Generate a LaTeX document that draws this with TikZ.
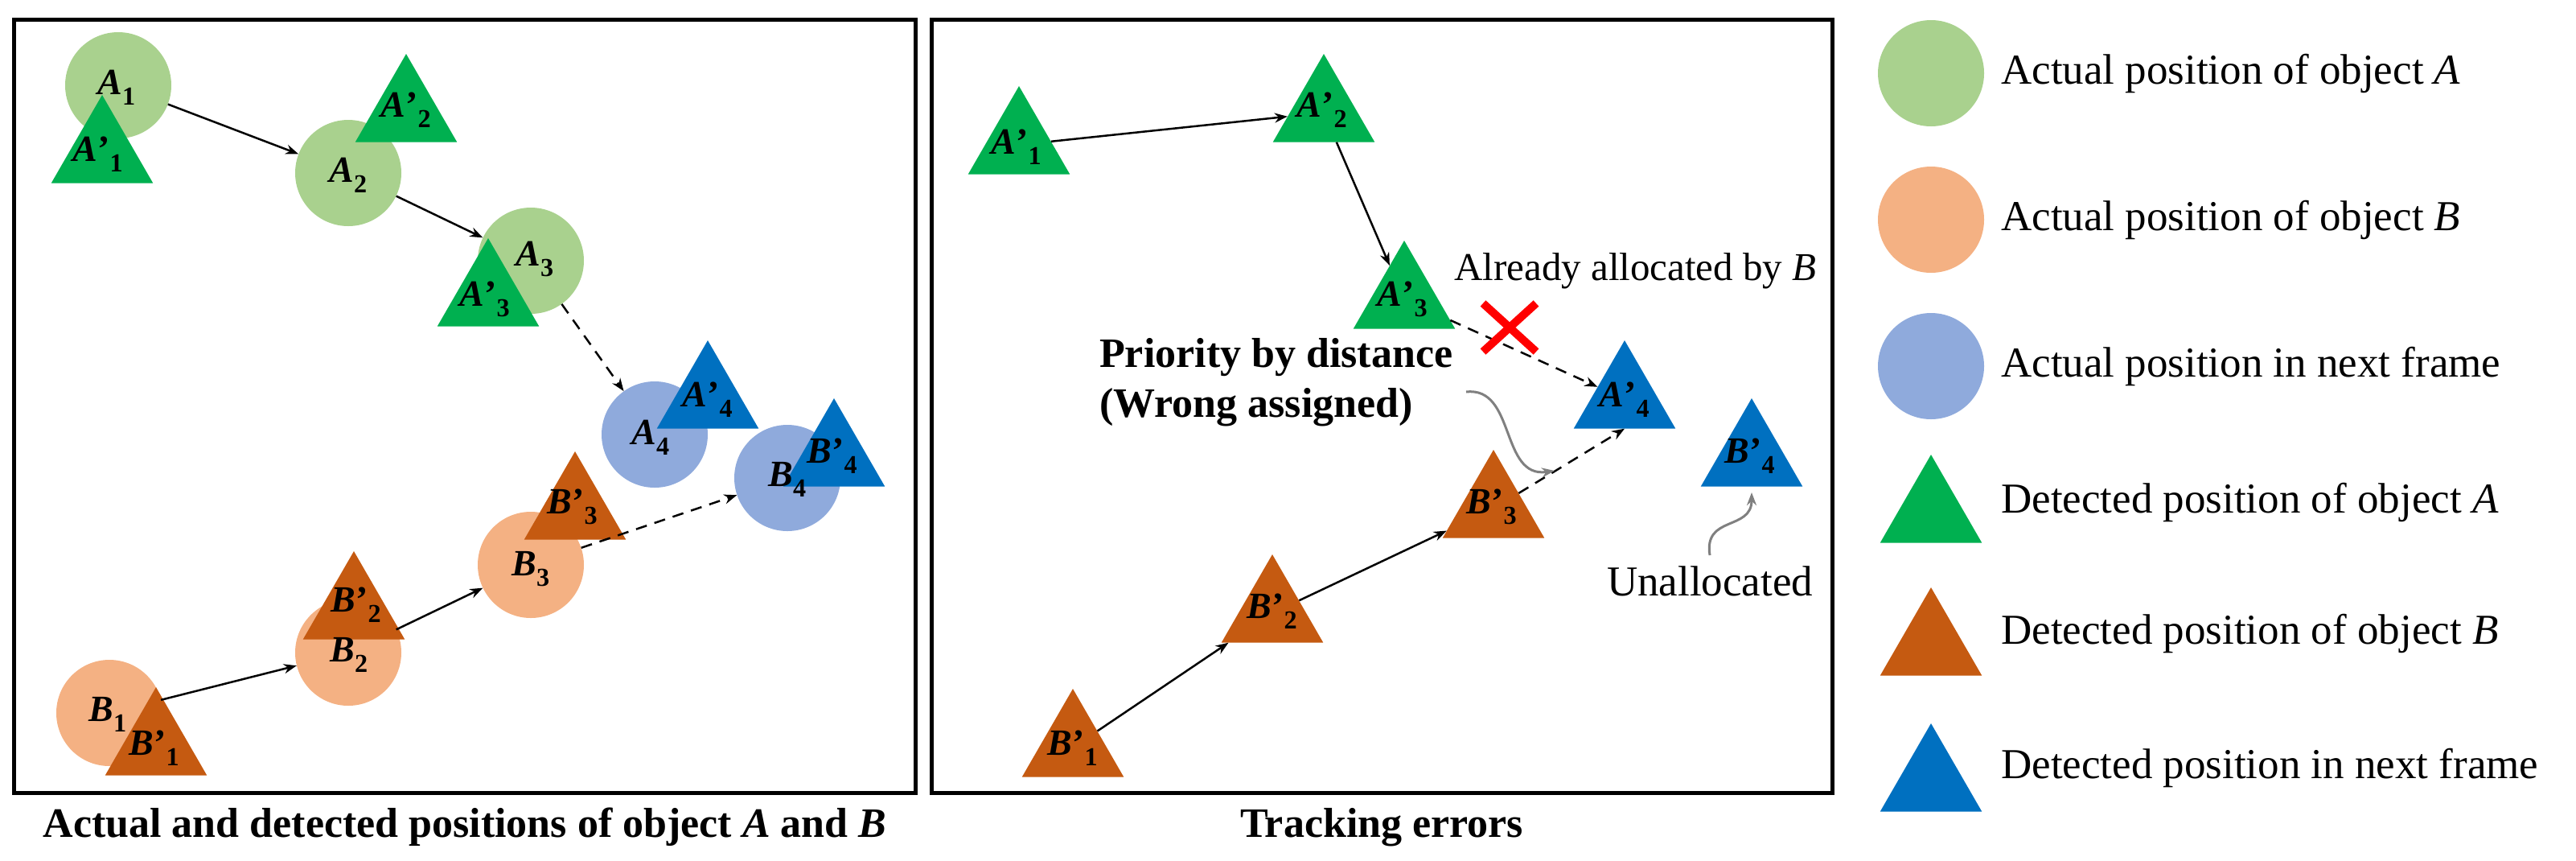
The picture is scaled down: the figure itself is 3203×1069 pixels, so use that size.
\documentclass[tikz,border=0pt]{standalone}
\usepackage{fontspec}
\setmainfont{Liberation Serif}
\usetikzlibrary{shapes.geometric,shapes.misc,arrows.meta}
\definecolor{cA}{HTML}{A9D18E}
\definecolor{cB}{HTML}{F4B183}
\definecolor{cN}{HTML}{8FAADC}
\definecolor{tA}{HTML}{00B050}
\definecolor{tB}{HTML}{C55A11}
\definecolor{tN}{HTML}{0070C0}
\tikzset{
  circ/.style={circle,minimum size=132pt,inner sep=0pt,draw=none},
  tri/.style={regular polygon,regular polygon sides=3,minimum size=146pt,inner sep=0pt,draw=none},
  lab/.style={inner sep=0pt,font=\fontsize{46}{50}\selectfont\bfseries\itshape},
  box/.style={draw=black,line width=5pt},
  arr/.style={line width=2.5pt,-{Stealth[length=16pt,width=12pt]}},
  darr/.style={arr,dash pattern=on 14pt off 10pt},
  garr/.style={line width=3pt,draw=gray,-{Stealth[length=16pt,width=12pt]}},
  txt/.style={inner sep=0pt,font=\fontsize{53}{62}\selectfont},
  btxt/.style={inner sep=0pt,font=\fontsize{52}{62}\selectfont\bfseries,align=left},
}
\newcommand{\pr}[2]{#1\textup{\textquoteright}\textsubscript{\upshape#2}}
\begin{document}
\begin{tikzpicture}[x=1pt,y=-1pt]
\useasboundingbox (0,0) rectangle (3203,1069);
% boxes
\node[box,minimum width=1121pt,minimum height=961pt,inner sep=0pt] (L) at (578,505) {};
\node[box,minimum width=1120pt,minimum height=961pt,inner sep=0pt] (R) at (1718,505) {};
\node[btxt] (capL) at (578,1028) {Actual and detected positions of object \textit{A} and \textit{B}};
\node[btxt] (capR) at (1718,1028) {Tracking errors};
% left circles
\node[circ,fill=cA] (A1) at (147,106) {};
\node[circ,fill=cA] (A2) at (433,215) {};
\node[circ,fill=cA] (A3) at (660,324) {};
\node[circ,fill=cN] (A4) at (814,540) {};
\node[circ,fill=cN] (B4) at (979,594) {};
\node[circ,fill=cB] (B3) at (660,702) {};
\node[circ,fill=cB] (B2) at (433,811) {};
\node[circ,fill=cB] (B1) at (136,886) {};
% left triangles (centroid = apex+72)
\node[tri,fill=tA] (lA1) at (127,191) {};
\node[tri,fill=tA] (lA2) at (505,140) {};
\node[tri,fill=tA] (lA3) at (607,369) {};
\node[tri,fill=tN] (lA4) at (880,496) {};
\node[tri,fill=tN] (lB4) at (1037,568) {};
\node[tri,fill=tB] (lB3) at (715,634) {};
\node[tri,fill=tB] (lB2) at (440,758) {};
\node[tri,fill=tB] (lB1) at (194,927) {};
\node[lab] (slA1) at (122,192) {\pr{A}{1}};
\node[lab] (slA2) at (505,137) {\pr{A}{2}};
\node[lab] (slA3) at (603,372) {\pr{A}{3}};
\node[lab] (slA4) at (880,497) {\pr{A}{4}};
\node[lab] (slB4) at (1035,567) {\pr{B}{4}};
\node[lab] (slB3) at (712,630) {\pr{B}{3}};
\node[lab] (slB2) at (443,752) {\pr{B}{2}};
\node[lab] (slB1) at (192,930) {\pr{B}{1}};
% circle labels
\node[lab] (tA1) at (145,109) {A\textsubscript{\upshape 1}};
\node[lab] (tA2) at (433,218) {A\textsubscript{\upshape 2}};
\node[lab] (tA3) at (665,322) {A\textsubscript{\upshape 3}};
\node[lab] (tA4) at (809,544) {A\textsubscript{\upshape 4}};
\node[lab] (tB4) at (979,596) {B\textsubscript{\upshape 4}};
\node[lab] (tB3) at (660,707) {B\textsubscript{\upshape 3}};
\node[lab] (tB2) at (434,814) {B\textsubscript{\upshape 2}};
\node[lab] (tB1) at (134,888) {B\textsubscript{\upshape 1}};
% left arrows
\draw[arr] (A1) -- (A2);
\draw[arr] (A2) -- (A3);
\draw[darr] (A3) -- (A4);
\draw[arr] (B1) -- (B2);
\draw[arr] (B2) -- (B3);
\draw[darr] (B3) -- (B4);
% right triangles
\node[tri,fill=tA] (rA1) at (1267,180) {};
\node[tri,fill=tA] (rA2) at (1646,140) {};
\node[tri,fill=tA] (rA3) at (1746,372) {};
\node[tri,fill=tN] (rA4) at (2020,496) {};
\node[tri,fill=tN] (rB4) at (2178,568) {};
\node[tri,fill=tB] (rB3) at (1857,632) {};
\node[tri,fill=tB] (rB2) at (1582,762) {};
\node[tri,fill=tB] (rB1) at (1334,929) {};
\node[lab] (srA1) at (1264,183) {\pr{A}{1}};
\node[lab] (srA2) at (1644,137) {\pr{A}{2}};
\node[lab] (srA3) at (1744,372) {\pr{A}{3}};
\node[lab] (srA4) at (2020,497) {\pr{A}{4}};
\node[lab] (srB4) at (2176,567) {\pr{B}{4}};
\node[lab] (srB3) at (1855,630) {\pr{B}{3}};
\node[lab] (srB2) at (1582,760) {\pr{B}{2}};
\node[lab] (srB1) at (1334,930) {\pr{B}{1}};
\draw[arr] (rA1) -- (rA2);
\draw[arr] (rA2) -- (rA3);
\draw[darr] (rA3) -- (rA4);
\draw[arr] (rB1) -- (rB2);
\draw[arr] (rB2) -- (rB3);
\draw[darr] (rB3) -- (rA4.south);
\node[cross out,draw=red,line width=10pt,minimum width=56pt,minimum height=50pt,inner sep=0pt] (X) at (1877,407) {};
\node[txt,anchor=west,font=\fontsize{49}{60}\selectfont] (already) at (1808,337) {Already allocated by \textit{B}};
\node[btxt,anchor=north west] (prio) at (1367,420) {Priority by distance\\(Wrong assigned)};
\node[txt] (unalloc) at (2126,722) {Unallocated};
\coordinate (g1s) at (1823,487);
\coordinate (g1e) at (1933,585);
\draw[garr] (g1s) .. controls (1885,480) and (1865,595) .. (g1e);
\coordinate (g2s) at (2126,690);
\coordinate (g2e) at (2178,612);
\draw[garr] (g2s) .. controls (2118,640) and (2178,660) .. (g2e);
% legend
\node[circ,fill=cA] (LA) at (2401,91) {};
\node[circ,fill=cB] (LB) at (2401,273) {};
\node[circ,fill=cN] (LN) at (2401,455) {};
\node[tri,fill=tA] (LtA) at (2401,638) {};
\node[tri,fill=tB] (LtB) at (2401,803) {};
\node[tri,fill=tN] (LtN) at (2401,972) {};
\node[txt,anchor=west] (lgA) at (2488,91) {Actual position of object \textit{A}};
\node[txt,anchor=west] (lgB) at (2488,273) {Actual position of object \textit{B}};
\node[txt,anchor=west] (lgN) at (2488,455) {Actual position in next frame};
\node[txt,anchor=west] (lgtA) at (2488,624) {Detected position of object \textit{A}};
\node[txt,anchor=west] (lgtB) at (2488,787) {Detected position of object \textit{B}};
\node[txt,anchor=west] (lgtN) at (2488,954) {Detected position in next frame};
\end{tikzpicture}
\end{document}
